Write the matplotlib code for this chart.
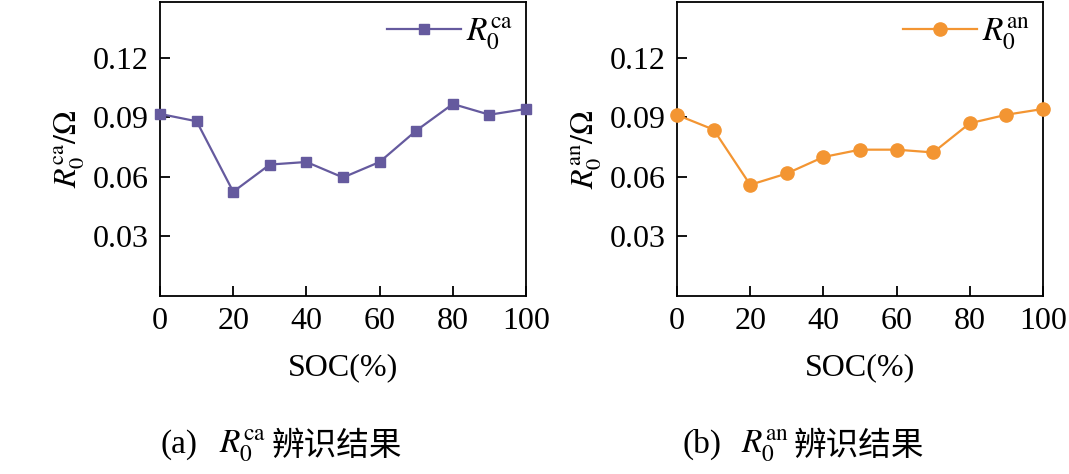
import matplotlib
matplotlib.use("Agg")
import matplotlib.pyplot as plt

plt.rcParams["font.family"] = ["Liberation Serif", "Noto Sans CJK SC"]
plt.rcParams["mathtext.fontset"] = "stix"

soc = [0, 10, 20, 30, 40, 50, 60, 70, 80, 90, 100]
r0_ca = [0.0917, 0.0880, 0.0525, 0.0662, 0.0675, 0.0597, 0.0675, 0.0833, 0.0967, 0.0913, 0.0942]
r0_an = [0.0912, 0.0838, 0.0560, 0.0617, 0.0700, 0.0737, 0.0737, 0.0723, 0.0870, 0.0913, 0.0942]
yticks = [0.03, 0.06, 0.09, 0.12]
xticks = [0, 20, 40, 60, 80, 100]

PURPLE = "#655a9e"
ORANGE = "#f39532"
FS = 23

fig = plt.figure(figsize=(10.69, 4.74), dpi=100)
ax1 = fig.add_axes([0.1497, 0.3755, 0.3424, 0.62])
ax2 = fig.add_axes([0.6333, 0.3755, 0.3424, 0.62])

panels = [
    (ax1, r0_ca, PURPLE, "s", 7.5, "ca"),
    (ax2, r0_an, ORANGE, "o", 9.5, "an"),
]

for ax, vals, col, mk, ms, sup in panels:
    ax.plot(soc, vals, color=col, marker=mk, markersize=ms, lw=1.6,
            label=rf"$R_0^{{\rm {sup}}}$", clip_on=False, zorder=3)
    ax.set_xlim(0, 100)
    ax.set_ylim(0, 0.148)
    ax.set_xticks(xticks)
    ax.set_yticks(yticks)
    ax.set_yticklabels([f"{t:.2f}" for t in yticks])
    ax.tick_params(direction="in", length=7, width=1.3, labelsize=FS, pad=8)
    for s in ax.spines.values():
        s.set_linewidth(1.3)
    ax.set_xlabel("SOC(%)", fontsize=FS, labelpad=12)
    ax.set_ylabel(rf"$R_0^{{\rm {sup}}}/\Omega$", fontsize=FS, labelpad=4)
    ax.legend(loc="upper right", frameon=False, fontsize=FS + 1, handlelength=2.2,
              handletextpad=0.15, borderaxespad=0.2, borderpad=0.2)

# captions, split so the CJK part gets a font that has the glyphs
for x0, tag, sup in [(0.150, "(a)", "ca"), (0.638, "(b)", "an")]:
    fig.text(x0, 0.045, tag, fontsize=24, va="baseline")
    fig.text(x0 + 0.055, 0.045, rf"$R_0^{{\rm {sup}}}$", fontsize=24, va="baseline")
    fig.text(x0 + 0.104, 0.04, "辨识结果", fontsize=23.5, va="baseline",
             family=["Noto Sans CJK SC"])

fig.savefig("out.png", dpi=100)
